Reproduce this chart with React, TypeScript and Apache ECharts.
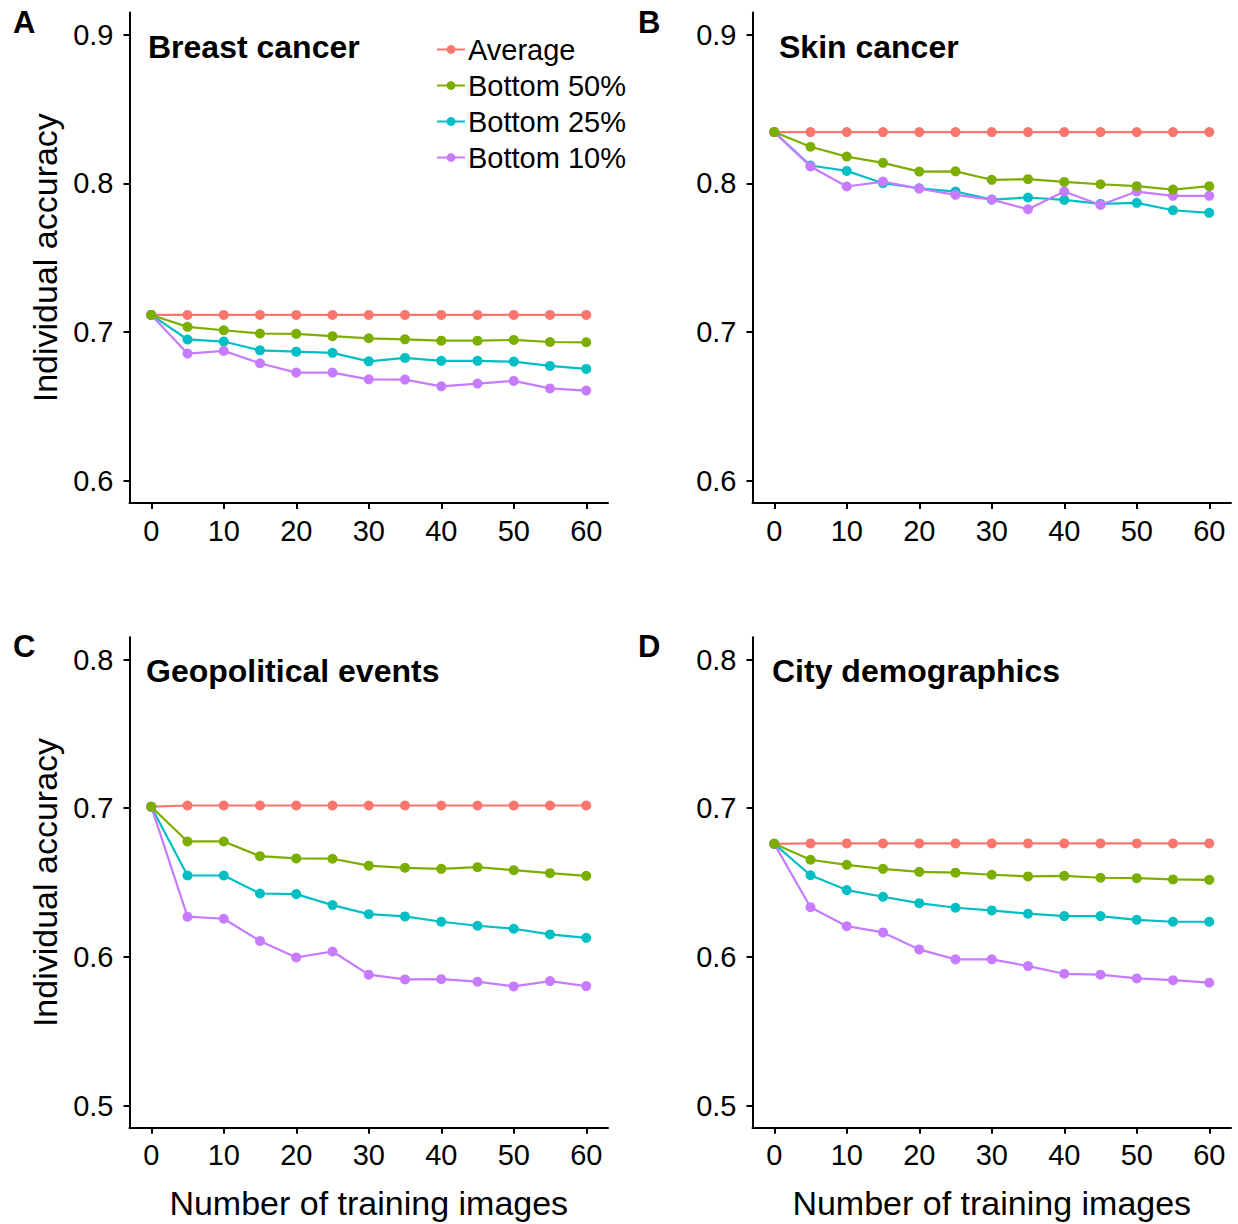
import React, { useEffect, useRef } from "react";
import * as echarts from "echarts";

const xs = [0, 5, 10, 15, 20, 25, 30, 35, 40, 45, 50, 55, 60];
const xTicks = [0, 10, 20, 30, 40, 50, 60];
const yTicksTop = [0.6, 0.7, 0.8, 0.9];
const yTicksBottom = [0.5, 0.6, 0.7, 0.8];
const seriesNames = ["Average", "Bottom 50%", "Bottom 25%", "Bottom 10%"];
const colors = ["#F8766D", "#7CAE00", "#00BFC4", "#C77CFF"];
const panelTitles = ["Breast cancer", "Skin cancer", "Geopolitical events", "City demographics"];
const panelLetters = ["A", "B", "C", "D"];

// Panel A: Breast cancer
const avgA = [0.7115, 0.7115, 0.7115, 0.7115, 0.7115, 0.7115, 0.7115, 0.7115, 0.7115, 0.7115, 0.7115, 0.7115, 0.7115];
const b50A = [0.7115, 0.7035, 0.7012, 0.699, 0.6988, 0.6972, 0.6958, 0.6951, 0.6942, 0.6942, 0.6947, 0.6933, 0.6931];
const b25A = [0.7115, 0.695, 0.6936, 0.6877, 0.6868, 0.686, 0.6803, 0.6826, 0.6806, 0.6806, 0.6801, 0.6772, 0.6752];
const b10A = [0.7115, 0.6855, 0.6873, 0.679, 0.6727, 0.6727, 0.6682, 0.668, 0.6635, 0.6653, 0.6671, 0.6621, 0.6606];

// Panel B: Skin cancer
const avgB = [0.8345, 0.8345, 0.8345, 0.8345, 0.8345, 0.8345, 0.8345, 0.8345, 0.8345, 0.8345, 0.8345, 0.8345, 0.8345];
const b50B = [0.8345, 0.8246, 0.818, 0.8138, 0.8079, 0.8081, 0.8024, 0.8028, 0.801, 0.7994, 0.7981, 0.7958, 0.7981];
const b25B = [0.8345, 0.812, 0.8084, 0.8001, 0.7967, 0.7945, 0.7891, 0.7905, 0.7889, 0.7862, 0.7869, 0.7819, 0.7802];
const b10B = [0.8345, 0.8114, 0.7979, 0.8012, 0.7965, 0.7923, 0.7891, 0.7826, 0.7945, 0.7855, 0.7945, 0.7916, 0.7916];

// Panel C: Geopolitical events
const avgC = [0.701, 0.7018, 0.7018, 0.7018, 0.7018, 0.7018, 0.7018, 0.7018, 0.7018, 0.7018, 0.7018, 0.7018, 0.7018];
const b50C = [0.701, 0.6776, 0.6776, 0.6677, 0.6662, 0.666, 0.6613, 0.6599, 0.6592, 0.6603, 0.6583, 0.6563, 0.6545];
const b25C = [0.701, 0.6547, 0.6547, 0.6426, 0.6422, 0.6348, 0.6287, 0.6272, 0.6236, 0.6209, 0.6189, 0.6151, 0.6128];
const b10C = [0.701, 0.627, 0.6256, 0.6107, 0.5996, 0.6036, 0.588, 0.5848, 0.585, 0.5833, 0.5801, 0.5837, 0.5803];

// Panel D: City demographics
const avgD = [0.676, 0.6763, 0.6763, 0.6763, 0.6763, 0.6763, 0.6763, 0.6763, 0.6763, 0.6763, 0.6763, 0.6763, 0.6763];
const b50D = [0.676, 0.6653, 0.6619, 0.6592, 0.6572, 0.6566, 0.6552, 0.6541, 0.6545, 0.6532, 0.6529, 0.6521, 0.6518];
const b25D = [0.676, 0.6549, 0.6449, 0.6404, 0.6361, 0.633, 0.6312, 0.629, 0.6274, 0.6274, 0.6249, 0.6236, 0.6236];
const b10D = [0.676, 0.6334, 0.6206, 0.6164, 0.605, 0.5983, 0.5983, 0.5938, 0.5886, 0.588, 0.5855, 0.5843, 0.5826];

const panelData = [
  [avgA, b50A, b25A, b10A],
  [avgB, b50B, b25B, b10B],
  [avgC, b50C, b25C, b10C],
  [avgD, b50D, b25D, b10D],
];

const FONT = '"Liberation Sans", Arial, Helvetica, sans-serif';

export default function App() {
  const ref = useRef<HTMLDivElement>(null);

  useEffect(() => {
    if (!ref.current) return;
    const chart = echarts.init(ref.current, null, { renderer: "svg" });

    const gridLefts = [129.5, 752.5, 129.5, 752.5];
    const gridTops = [12.4, 12.4, 637.2, 637.2];
    const grids = gridLefts.map((l, i) => ({
      left: l,
      top: gridTops[i],
      width: 478.5,
      height: 490.6,
      containLabel: false,
    }));

    const xAxes = grids.map((_, i) => ({
      type: "value",
      gridIndex: i,
      min: -3,
      max: 63,
      name: i >= 2 ? "Number of training images" : "",
      nameLocation: "middle",
      nameGap: 58,
      nameTextStyle: { fontSize: 34, color: "#000", fontFamily: FONT },
      axisLine: { show: true, onZero: false, lineStyle: { color: "#000", width: 2 } },
      axisTick: { show: true, length: 6, lineStyle: { color: "#000", width: 2 }, customValues: xTicks },
      axisLabel: {
        show: true,
        customValues: xTicks,
        fontSize: 29,
        color: "#000",
        fontFamily: FONT,
        margin: 13,
      },
      splitLine: { show: false },
    }));

    const yAxes = grids.map((_, i) => {
      const top = i < 2;
      const ticks = top ? yTicksTop : yTicksBottom;
      return {
        type: "value",
        gridIndex: i,
        min: top ? 0.585 : 0.485,
        max: top ? 0.915 : 0.815,
        name: i % 2 === 0 ? "Individual accuracy" : "",
        nameLocation: "middle",
        nameRotate: 90,
        nameGap: 68,
        nameTextStyle: { fontSize: 34, color: "#000", fontFamily: FONT },
        axisLine: { show: true, onZero: false, lineStyle: { color: "#000", width: 2 } },
        axisTick: { show: true, length: 6, lineStyle: { color: "#000", width: 2 }, customValues: ticks },
        axisLabel: {
          show: true,
          customValues: ticks,
          fontSize: 29,
          color: "#000",
          fontFamily: FONT,
          margin: 16,
          formatter: (v: number) => v.toFixed(1),
        },
        splitLine: { show: false },
      };
    });

    const series: any[] = [];
    panelData.forEach((arrs, p) => {
      arrs.forEach((vals, s) => {
        series.push({
          type: "line",
          name: seriesNames[s],
          xAxisIndex: p,
          yAxisIndex: p,
          data: xs.map((x, k) => [x, vals[k]]),
          symbol: "circle",
          symbolSize: 10,
          showSymbol: true,
          lineStyle: { color: colors[s], width: 2.2 },
          itemStyle: { color: colors[s] },
          z: s === 1 ? 5 : 2 + s * 0.1,
          silent: true,
        });
      });
    });

    const titleX = [148, 779, 146, 772];
    const titleY = [47, 47, 671, 671];
    const letterX = [13, 638, 13, 638];
    const letterY = [22, 22, 646, 646];

    const graphic: any[] = [];
    panelTitles.forEach((t, i) => {
      graphic.push({
        type: "text",
        x: titleX[i],
        y: titleY[i],
        style: {
          text: t,
          font: `bold 32px ${FONT}`,
          fill: "#000",
          textAlign: "left",
          textVerticalAlign: "middle",
          align: "left",
          verticalAlign: "middle",
        },
      });
      graphic.push({
        type: "text",
        x: letterX[i],
        y: letterY[i],
        style: {
          text: panelLetters[i],
          font: `bold 31px ${FONT}`,
          fill: "#000",
          textAlign: "left",
          textVerticalAlign: "middle",
          align: "left",
          verticalAlign: "middle",
        },
      });
    });

    chart.setOption({
      animation: false,
      backgroundColor: "#fff",
      color: colors,
      grid: grids,
      xAxis: xAxes,
      yAxis: yAxes,
      legend: {
        show: true,
        orient: "vertical",
        left: 436,
        top: 35,
        padding: 0,
        itemWidth: 28,
        itemHeight: 11,
        itemGap: 7,
        selectedMode: false,
        data: seriesNames,
        textStyle: { fontSize: 29, color: "#000", fontFamily: FONT, lineHeight: 29, padding: [0, 0, 0, -2] },
      },
      graphic,
      series,
    });

    return () => {
      chart.dispose();
    };
  }, []);

  return (
    <div
      ref={ref}
      style={{ position: "absolute", left: 0, top: 0, width: 1238, height: 1224, background: "#fff" }}
    />
  );
}
